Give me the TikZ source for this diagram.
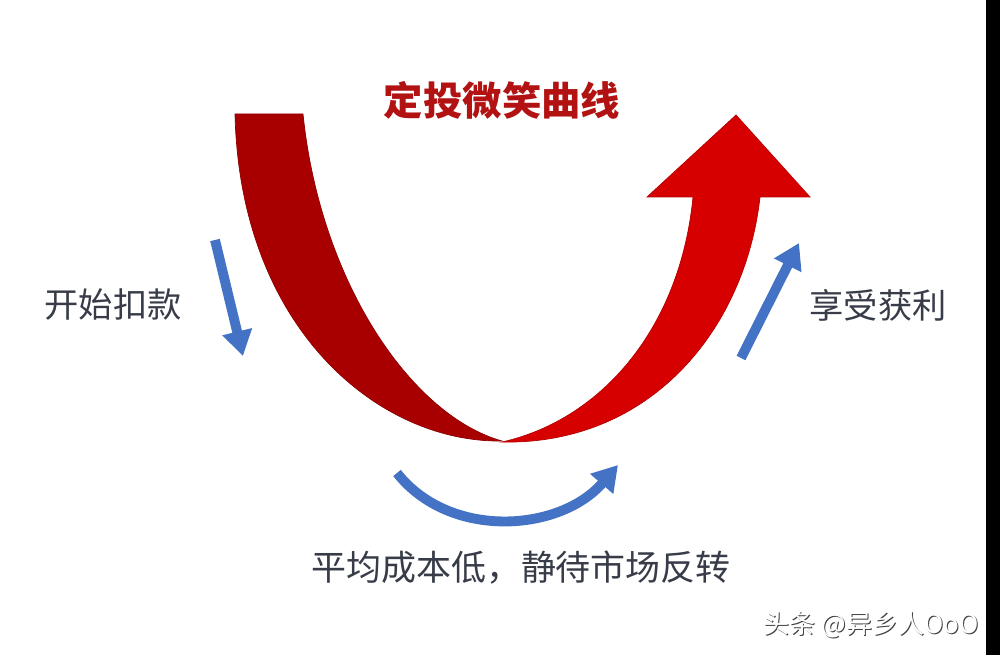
\documentclass[tikz,border=0pt]{standalone}
\usepackage{fontspec}
\setmainfont{Noto Sans CJK SC}
\usetikzlibrary{arrows.meta, positioning}
\definecolor{smiledark}{RGB}{168,0,0}
\definecolor{smilered}{RGB}{214,0,0}
\definecolor{titlered}{RGB}{178,18,18}
\definecolor{arrowblue}{RGB}{68,114,196}
\definecolor{labelgray}{RGB}{55,60,72}

\begin{document}
\begin{tikzpicture}[x=0.02cm, y=-0.02cm]
      % Styles for the parts
      \tikzset{leftband/.style={fill=smiledark, draw=smiledark!85!black, line width=0.4pt}}
      \tikzset{rightband/.style={fill=smilered, draw=smilered!85!black, line width=0.4pt}}
      \tikzset{bluearrow/.style={draw=arrowblue, line width=5.6pt, -{Triangle[length=0.5cm, width=0.58cm]}}}
      \tikzset{caption/.style={text=labelgray, font=\fontsize{19.5}{22}\selectfont, inner sep=0pt}}

      % Canvas
      \useasboundingbox (0,0) rectangle (1000,655);
      \fill[white] (0,0) rectangle (1000,655);
      \fill[black] (986,0) rectangle (1000,655);

      % Title
      \node[text=titlered, font=\fontsize{22.4}{26}\selectfont\bfseries, inner sep=0pt] (title) at (502,100) {定投微笑曲线};

      % --- Smile curve, falling half ---
      \draw[leftband] (235,114) -- (303,114)
            .. controls (320,280) and (410,415) .. (502,441)
            .. controls (380,443) and (240,330) .. (235,114) -- cycle;

      % --- Smile curve, rising half with head ---
      \draw[rightband] (502,442)
            .. controls (650,445) and (745,330) .. (760,197)
            -- (810,197) -- (736,115) -- (647,197) -- (693,197)
            .. controls (680,330) and (600,420) .. (502,442) -- cycle;

      % Blue arrows
      \coordinate (downtail) at (215,240);
      \coordinate (downtip)  at (243,356);
      \coordinate (uptail)   at (741,358);
      \coordinate (uptip)    at (799,243);
      \coordinate (arctail)  at (397,473);
      \coordinate (arctip)   at (618,465);
      \draw[bluearrow] (downtail) -- (downtip);
      \draw[bluearrow] (uptail) -- (uptip);
      \draw[bluearrow] (arctail) .. controls (450,540) and (560,532) .. (arctip);

      % Labels
      \node[caption] (start)  at (113,305) {开始扣款};
      \node[caption] (profit) at (878,305) {享受获利};
      \node[caption, font=\fontsize{19.9}{22}\selectfont] (bottom) at (521,568) {平均成本低，静待市场反转};

      % Watermark
      \node[text=black!75, font=\fontsize{14.8}{17}\selectfont, inner sep=0pt] (markshadow) at (872,626) {头条 @异乡人OoO};
      \node[text=white, font=\fontsize{14.8}{17}\selectfont, inner sep=0pt] (mark) at (871,625) {头条 @异乡人OoO};
\end{tikzpicture}
\end{document}
